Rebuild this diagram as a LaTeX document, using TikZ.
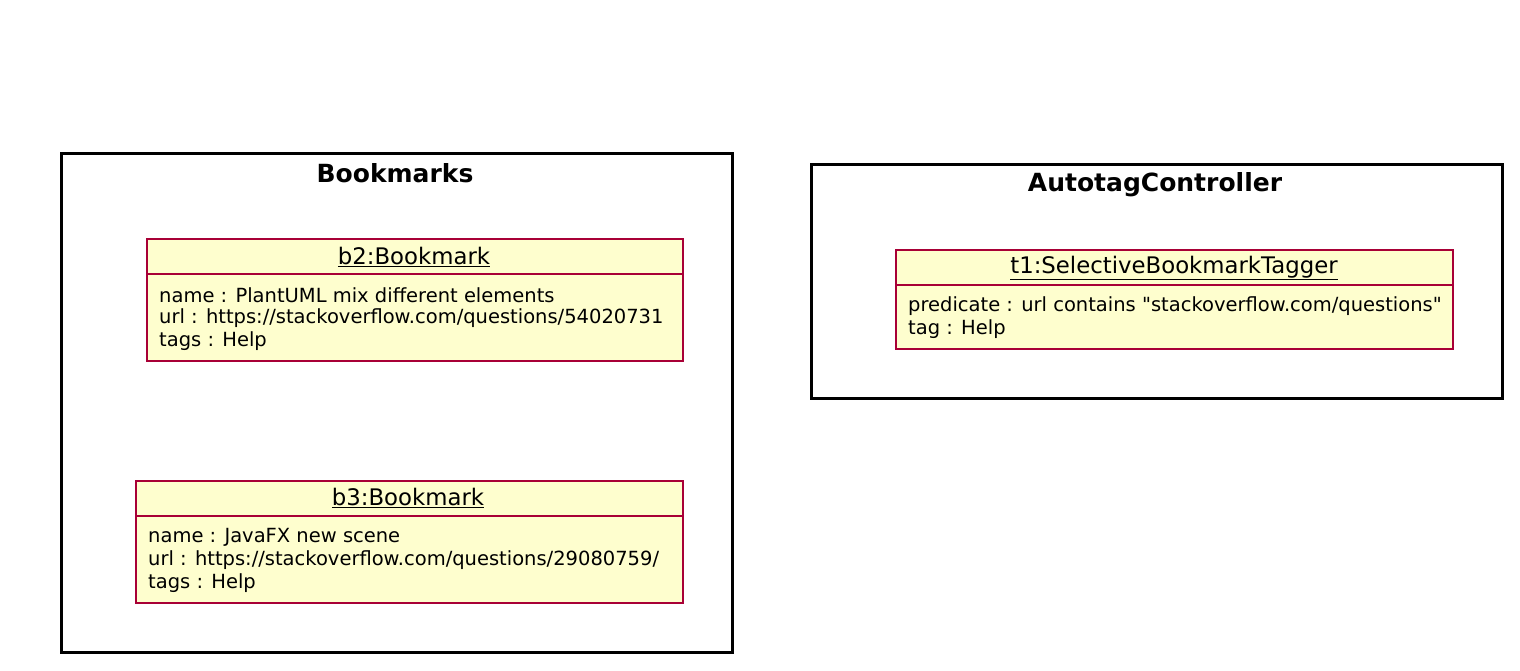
\documentclass[tikz,border=0pt]{standalone}
\usepackage{fontspec}
\setmainfont{DejaVu Sans}[Ligatures=TeXOff]
\definecolor{objfill}{HTML}{FEFECE}
\definecolor{objline}{HTML}{A80036}
\tikzset{
  frame/.style={draw=black, line width=2.6pt, anchor=north west, inner sep=0pt},
  frametitle/.style={font=\fontsize{25}{29}\selectfont\bfseries, anchor=center, inner sep=0pt},
  objbox/.style={draw=objline, fill=objfill, line width=2.3pt, anchor=north west, inner sep=0pt},
  objtitle/.style={font=\fontsize{22.8}{26}\selectfont, anchor=center, inner sep=0pt},
  attr/.style={font=\fontsize{19.5}{23}\selectfont, anchor=west, inner sep=0pt},
  divider/.style={draw=objline, line width=2.3pt}
}
\begin{document}
\begin{tikzpicture}[x=1pt,y=-1pt]
\useasboundingbox (0,0) rectangle (1520,670);
% Bookmarks package
\node[frame, minimum width=671pt, minimum height=499pt] (bm) at (60,152) {};
\node[frametitle] (bmt) at (395,173) {Bookmarks};
% b2
\node[objbox, minimum width=536pt, minimum height=122pt] (b2) at (146,238) {};
\coordinate (b2l) at (146,274); \coordinate (b2r) at (682,274);
\draw[divider] (b2l) -- (b2r);
\node[objtitle] (b2t) at (414,257) {\underline{b2:Bookmark}};
\node[attr] (b2a) at (159,295) {name : PlantUML mix different elements};
\node[attr] (b2b) at (159,318) {url : https://stackoverflow.com/questions/54020731};
\node[attr] (b2c) at (159,341) {tags : Help};
% b3
\node[objbox, minimum width=547pt, minimum height=122pt] (b3) at (135,480) {};
\coordinate (b3l) at (135,516); \coordinate (b3r) at (682,516);
\draw[divider] (b3l) -- (b3r);
\node[objtitle] (b3t) at (408,498) {\underline{b3:Bookmark}};
\node[attr] (b3a) at (148,537) {name : JavaFX new scene};
\node[attr] (b3b) at (148,560) {url : https://stackoverflow.com/questions/29080759/};
\node[attr] (b3c) at (148,583) {tags : Help};
% AutotagController package
\node[frame, minimum width=691pt, minimum height=234pt] (ac) at (810,163) {};
\node[frametitle] (act) at (1155,185) {AutotagController};
% t1
\node[objbox, minimum width=557pt, minimum height=99pt] (t1) at (895,249) {};
\coordinate (t1l) at (895,285); \coordinate (t1r) at (1452,285);
\draw[divider] (t1l) -- (t1r);
\node[objtitle] (t1t) at (1174,268) {\underline{t1:SelectiveBookmarkTagger}};
\node[attr] (t1a) at (908,306) {predicate : url contains "stackoverflow.com/questions"};
\node[attr] (t1b) at (908,329) {tag : Help};
\end{tikzpicture}
\end{document}
